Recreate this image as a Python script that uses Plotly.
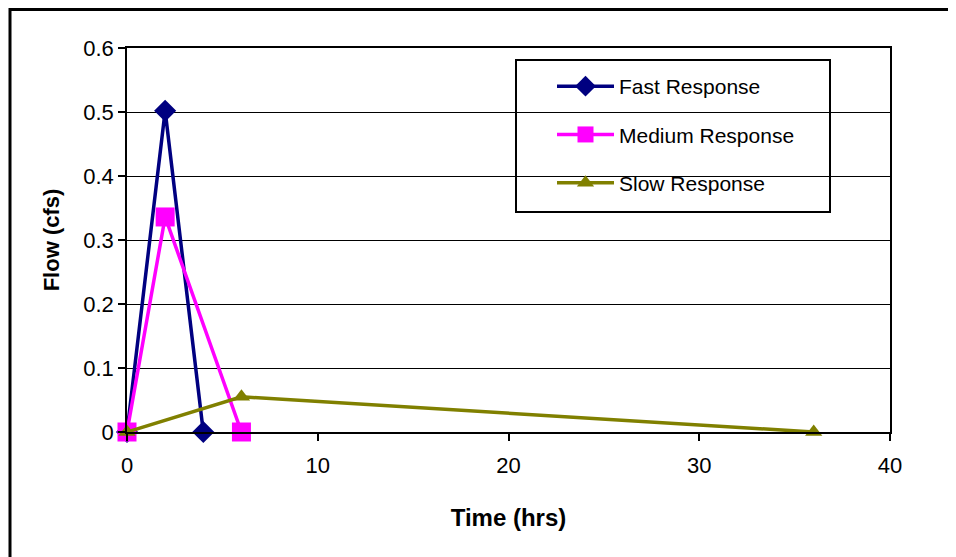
import plotly.graph_objects as go

fast_x = [0, 2, 4]
fast_y = [0, 0.502, 0]
medium_x = [0, 2, 6]
medium_y = [0, 0.336, 0]
slow_x = [0, 6, 36]
slow_y = [0, 0.055, 0]

x_ticks = [0, 10, 20, 30, 40]
y_ticks = [0, 0.1, 0.2, 0.3, 0.4, 0.5, 0.6]
y_labels = ["0", "0.1", "0.2", "0.3", "0.4", "0.5", "0.6"]

FONT = "Liberation Sans, Arial, sans-serif"

# page offset of the plot div (browser body margin)
OFF = 8
L, R, T, B = 127 - OFF, 956 - 890 + OFF, 48 - OFF, 557 - 432 + OFF
PW, PH = 956 - L - R, 557 - T - B


def px_x(px):
    return (px - OFF - L) / PW


def px_y(py):
    return (557 - B - (py - OFF)) / PH


fig = go.Figure()
fig.add_trace(go.Scatter(x=fast_x, y=fast_y, mode="lines+markers", name="Fast Response",
                         legendgroup="a",
                         line=dict(color="#000080", width=3.5),
                         marker=dict(symbol="diamond", size=17, color="#000080"),
                         cliponaxis=False))
fig.add_trace(go.Scatter(x=medium_x, y=medium_y, mode="lines+markers", name="Medium Response",
                         legendgroup="b",
                         line=dict(color="#FF00FF", width=3.5),
                         marker=dict(symbol="square", size=19, color="#FF00FF"),
                         cliponaxis=False))
fig.add_trace(go.Scatter(x=slow_x, y=slow_y, mode="lines+markers", name="Slow Response",
                         legendgroup="c",
                         line=dict(color="#808000", width=3.5),
                         marker=dict(symbol="triangle-up", size=15, color="#808000"),
                         cliponaxis=False))

fig.update_layout(
    width=956, height=557,
    margin=dict(l=L, r=R, t=T, b=B),
    paper_bgcolor="white", plot_bgcolor="white",
    font=dict(family=FONT, size=22, color="black"),
    showlegend=True,
    legend=dict(x=px_x(552), y=px_y(66), xanchor="left", yanchor="top",
                bgcolor="rgba(0,0,0,0)", borderwidth=0,
                font=dict(family=FONT, size=21, color="black"),
                tracegroupgap=18, itemwidth=57),
    xaxis=dict(range=[0, 40], tickvals=x_ticks, ticks="outside", ticklen=7, tickwidth=1.5,
               tickcolor="black", showline=True, linecolor="black", linewidth=1.5,
               mirror=True, showgrid=False, zeroline=False, ticklabelstandoff=6,
               title=dict(text="<b>Time (hrs)</b>", font=dict(size=24), standoff=32),
               tickfont=dict(size=22)),
    yaxis=dict(range=[0, 0.6], tickvals=y_ticks, ticktext=y_labels, ticks="outside",
               ticklen=7, tickwidth=1.5, tickcolor="black", showline=True, linecolor="black",
               linewidth=1.5, mirror=True, showgrid=True, gridcolor="black", gridwidth=1,
               zeroline=False,
               title=dict(text="<b>Flow (cfs)</b>", font=dict(size=22), standoff=18),
               tickfont=dict(size=22)),
    shapes=[
        dict(type="rect", xref="paper", yref="paper",
             x0=px_x(516), x1=px_x(830), y0=px_y(212), y1=px_y(60),
             line=dict(color="black", width=2), fillcolor="rgba(0,0,0,0)", layer="above"),
        dict(type="rect", xref="paper", yref="paper",
             x0=px_x(10), x1=1.4, y0=-0.8, y1=px_y(9.5),
             line=dict(color="black", width=3), fillcolor="rgba(0,0,0,0)", layer="below"),
    ],
)

fig.write_html("out.html")
